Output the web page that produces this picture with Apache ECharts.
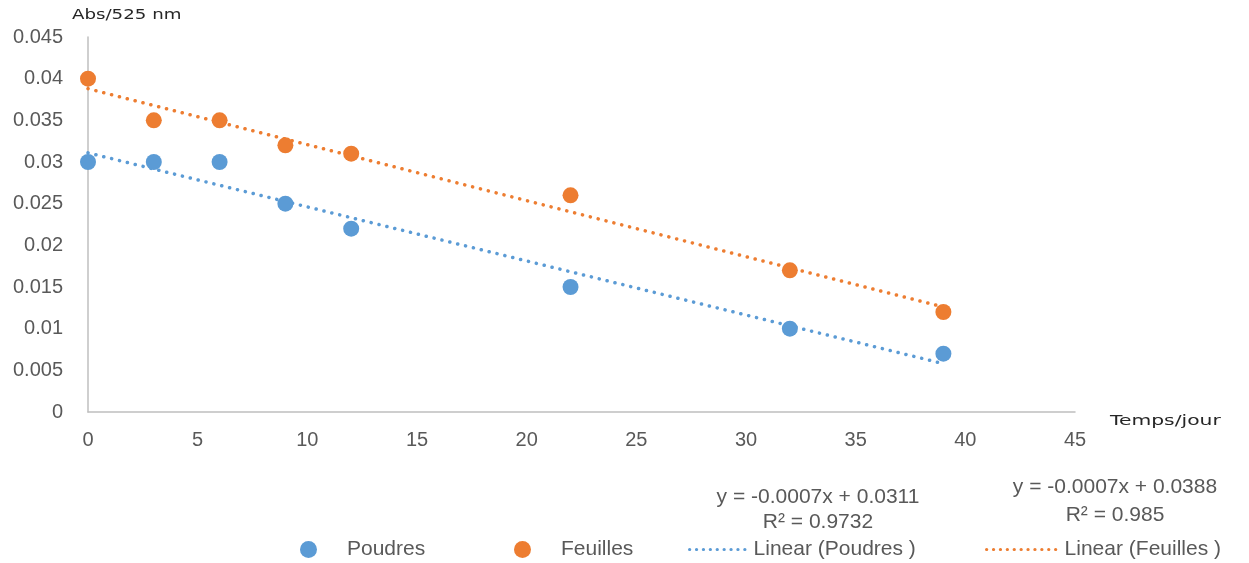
<!DOCTYPE html>
<html>
<head>
<meta charset="utf-8">
<script src="https://cdn.jsdelivr.net/npm/echarts@6/dist/echarts.min.js"></script>
<style>html,body{margin:0;padding:0;background:#fff}#c{width:1249px;height:563px}</style>
</head>
<body>
<div id="c"></div>
<script>
var days = [0, 3, 6, 9, 12, 22, 32, 39];
var poudres = [0.030, 0.030, 0.030, 0.025, 0.022, 0.015, 0.010, 0.007];
var feuilles = [0.040, 0.035, 0.035, 0.032, 0.031, 0.026, 0.017, 0.012];
var trendX = [0, 39];
var trendPoudres = [0.0311, 0.0058];
var trendFeuilles = [0.0388, 0.0126];
var eqPoudres = ['y = -0.0007x + 0.0311', 'R² = 0.9732'];
var eqFeuilles = ['y = -0.0007x + 0.0388', 'R² = 0.985'];
var xTicks = {min: 0, max: 45, interval: 5};
var yTicks = {min: 0, max: 0.045, interval: 0.005};

var BLUE = '#5B9BD5', ORANGE = '#ED7D31', TXT = '#595959';
var FONT = 'Liberation Sans';
function pairs(xs, ys) { return xs.map(function (x, i) { return [x, ys[i]]; }); }
var dotted = {width: 3.5, type: [0.1, 8], cap: 'round'};

var chart = echarts.init(document.getElementById('c'), null, {renderer: 'canvas'});
function legendItem(name, left, w, h, pad, isLine) {
  var l = {
    data: [name], left: left, top: 539, itemWidth: w, itemHeight: h,
    padding: 0, itemGap: 0,
    textStyle: {color: TXT, fontSize: 21, fontFamily: FONT, padding: [0, 0, 0, pad]}
  };
  if (isLine) {
    l.itemStyle = {opacity: 0};
    l.lineStyle = {width: 3.2, type: [0.1, 6.8], cap: 'round'};
  }
  return l;
}
chart.setOption({
  animation: false,
  grid: {left: 88, right: 174, top: 37, bottom: 151},
  xAxis: {
    type: 'value', min: xTicks.min, max: xTicks.max, interval: xTicks.interval,
    axisLine: {lineStyle: {color: '#BFBFBF', width: 1.5}},
    axisTick: {show: false}, splitLine: {show: false},
    axisLabel: {color: TXT, fontSize: 20, fontFamily: FONT, margin: 18}
  },
  yAxis: {
    type: 'value', min: yTicks.min, max: yTicks.max, interval: yTicks.interval,
    axisLine: {show: true, lineStyle: {color: '#BFBFBF', width: 1.5}},
    axisTick: {show: false}, splitLine: {show: false},
    axisLabel: {color: TXT, fontSize: 20, fontFamily: FONT, margin: 25,
      formatter: function (v) { return String(Math.round(v * 1000) / 1000); }}
  },
  legend: [
    legendItem('Poudres', 300, 17, 17, 25, false),
    legendItem('Feuilles', 514, 17, 17, 25, false),
    legendItem('Linear (Poudres )', 688, 56, 16, 3, true),
    legendItem('Linear (Feuilles )', 985, 70, 16, 3, true)
  ],
  series: [
    {name: 'Linear (Poudres )', type: 'line', data: pairs(trendX, trendPoudres), symbol: 'none',
      lineStyle: Object.assign({color: BLUE}, dotted), itemStyle: {color: BLUE}, z: 1},
    {name: 'Linear (Feuilles )', type: 'line', data: pairs(trendX, trendFeuilles), symbol: 'none',
      lineStyle: Object.assign({color: ORANGE}, dotted), itemStyle: {color: ORANGE}, z: 1},
    {name: 'Poudres', type: 'scatter', data: pairs(days, poudres), symbol: 'circle', symbolSize: 16,
      itemStyle: {color: BLUE, opacity: 1}, z: 3},
    {name: 'Feuilles', type: 'scatter', data: pairs(days, feuilles), symbol: 'circle', symbolSize: 16,
      itemStyle: {color: ORANGE, opacity: 1}, z: 3}
  ],
  graphic: [
    {type: 'text', left: 72, top: 8, scaleX: 1.3, style: {text: 'Abs/525 nm', fill: '#262626', font: '500 14px "DejaVu Sans"'}},
    {type: 'text', left: 1110, top: 414, scaleX: 1.45, style: {text: 'Temps/jour', fill: '#262626', font: '500 14px "DejaVu Sans"'}},
    {type: 'text', x: 818, y: 497, style: {text: eqPoudres[0], fill: TXT, font: '21px "' + FONT + '"', align: 'center', verticalAlign: 'middle'}},
    {type: 'text', x: 818, y: 522, style: {text: eqPoudres[1], fill: TXT, font: '21px "' + FONT + '"', align: 'center', verticalAlign: 'middle'}},
    {type: 'text', x: 1115, y: 487, style: {text: eqFeuilles[0], fill: TXT, font: '21px "' + FONT + '"', align: 'center', verticalAlign: 'middle'}},
    {type: 'text', x: 1115, y: 515, style: {text: eqFeuilles[1], fill: TXT, font: '21px "' + FONT + '"', align: 'center', verticalAlign: 'middle'}}
  ]
});
</script>
</body>
</html>
